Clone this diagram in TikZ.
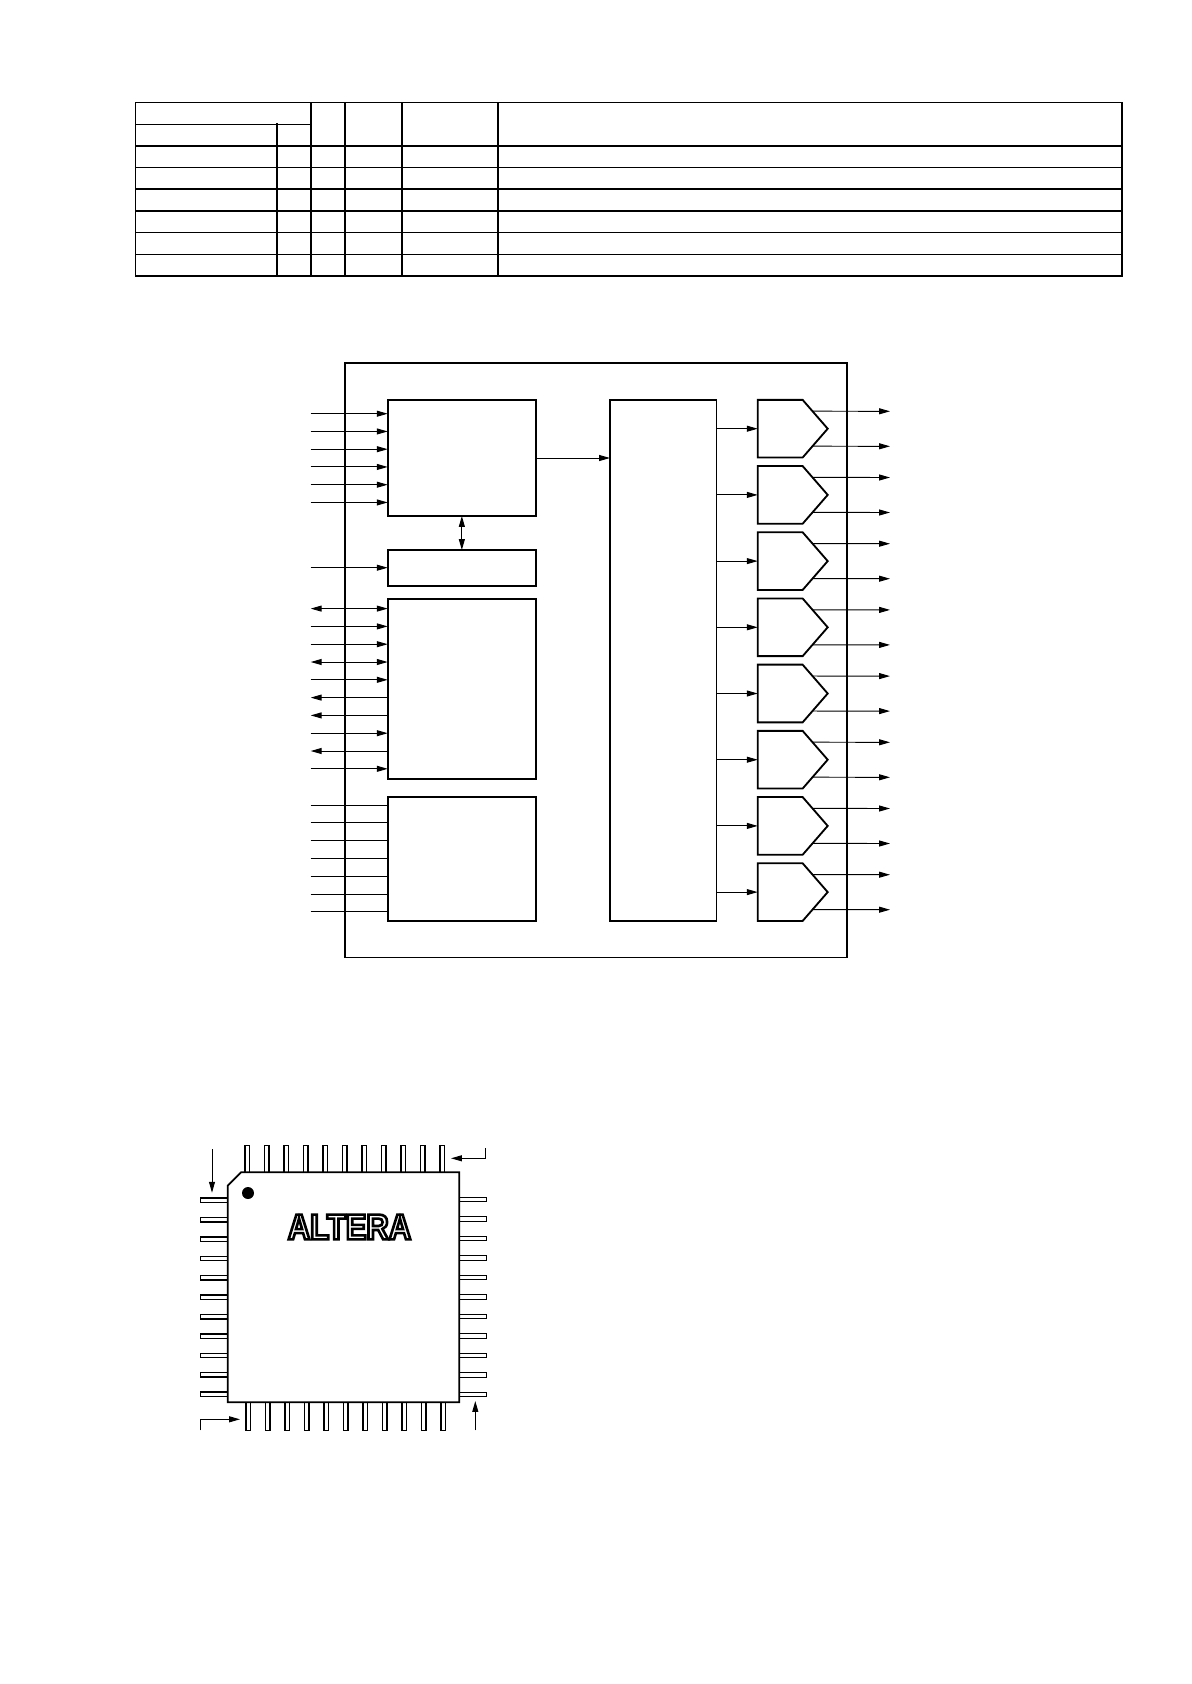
\documentclass[tikz,border=0pt]{standalone}
\usepackage{fontspec}
\usepackage{tikz}
\usetikzlibrary{shapes.symbols, arrows.meta, calc}
\newfontfamily\logofont[FakeStretch=0.86]{Liberation Sans}
\tikzset{
	rulethin/.style ={line width=0.6pt, line cap=rect},
	rulethick/.style={line width=1pt, line cap=rect},
	blk/.style      ={rectangle, draw=black, line width=1.05pt, inner sep=0pt, outer sep=0pt},
	pxsize/.style 2 args={minimum width=#1*0.02cm, minimum height=#2*0.02cm},
	drvblk/.style   ={signal, signal to=east, signal pointer angle=98, draw=black, line width=1.05pt, inner sep=0pt, outer sep=0pt, minimum width=70*0.02cm, minimum height=57.7*0.02cm, anchor=west},
	sigin/.style    ={-{Stealth[length=6.2pt, width=3.4pt, inset=0pt]}, line width=0.55pt},
	sigout/.style   ={{Stealth[length=6.2pt, width=3.4pt, inset=0pt]}-, line width=0.55pt},
	sigboth/.style  ={{Stealth[length=6.2pt, width=3.4pt, inset=0pt]}-{Stealth[length=6.2pt, width=3.4pt, inset=0pt]}, line width=0.55pt},
	signone/.style  ={line width=0.55pt},
	pin/.style      ={draw=black, fill=white, line width=0.75pt},
}
\begin{document}
\begin{tikzpicture}[x=0.02cm, y=-0.02cm]
	\useasboundingbox (0,0) rectangle (1191,1684);
	% table
	\draw[rulethin] (135.5,102.5) -- (1122,102.5);
	\draw[rulethin] (135.5,124.3) -- (311,124.3);
	\foreach \yy in {167.3, 189, 232.3, 254.3}
		\draw[rulethin] (135.5,\yy) -- (1122,\yy);
	\foreach \yy in {145.7, 210.7, 275.7}
		\draw[rulethick] (135.5,\yy) -- (1122,\yy);
	\draw[rulethick] (276.7,124.3) -- (276.7,275.7);
	\foreach \xx in {135.5, 311, 345, 402, 498.3, 1122}
		\draw[rulethick] (\xx,102.5) -- (\xx,275.7);
	% block diagram
	\node[blk, pxsize={501.7}{594.5}] (chipbox) at (596.15,660.25) {};
	\node[blk, pxsize={148.3}{116}] (ctrl) at (461.85,458) {};
	\node[blk, pxsize={148.3}{36}] (mem) at (461.85,568) {};
	\node[blk, pxsize={148.3}{179.9}] (iface) at (461.85,688.65) {};
	\node[blk, pxsize={148.3}{124}] (power) at (461.85,859) {};
	\node[blk, pxsize={106.5}{521}] (mux) at (663.25,660.5) {};
	\draw[sigin] (ctrl.east) -- (ctrl.east -| mux.west);
	\draw[sigboth] (ctrl.south) -- (mem.north);
	\foreach \i in {0,...,5} {
		\coordinate (ctrlin\i) at (310.7,413.7+\i*17.75);
		\draw[sigin] (ctrlin\i) -- (ctrlin\i -| ctrl.west);
	}
	\coordinate (memin) at (310.7,567.7);
	\draw[sigin] (memin) -- (memin -| mem.west);
	\foreach \i/\kind in {0/sigboth, 1/sigin, 2/sigin, 3/sigboth, 4/sigin, 5/sigout, 6/sigout, 7/sigin, 8/sigout, 9/sigin} {
		\coordinate (ifin\i) at (310.7,608.6+\i*17.8);
		\draw[\kind] (ifin\i) -- (ifin\i -| iface.west);
	}
	\foreach \i in {0,...,6} {
		\coordinate (pwrin\i) at (310.7,805+\i*17.8);
		\draw[signone] (pwrin\i) -- (pwrin\i -| power.west);
	}
	\foreach \i in {0,...,7} {
		\node[drvblk] (drv\i) at (757.7,428.7+\i*66.2) {};
		\draw[sigin] (drv\i.west -| mux.east) -- (drv\i.west);
		\coordinate (outa\i) at (890,411.3+\i*66.2);
		\coordinate (outb\i) at (890,446.3+\i*66.2);
		\draw[sigin] ([shift={(-15,-17.5)}]drv\i.east) -- (outa\i);
		\draw[sigin] ([shift={(-15,17.5)}]drv\i.east) -- (outb\i);
	}
	% package
	\foreach \i in {0,...,10} {
		\draw[pin] (245.1+\i*19.5,1145.3) rectangle (249.5+\i*19.5,1172.3);
		\draw[pin] (246.1+\i*19.5,1402.3) rectangle (250.5+\i*19.5,1430.3);
		\draw[pin] (200.3,1198.1+\i*19.4) rectangle (227.7,1202.5+\i*19.4);
		\draw[pin] (459.3,1197.3+\i*19.5) rectangle (486.7,1201.7+\i*19.5);
	}
	\draw[fill=white, line width=1pt] (241,1172.3) -- (459.3,1172.3) -- (459.3,1402.3) -- (227.7,1402.3) -- (227.7,1185.7) -- cycle;
	\fill (248,1193) circle (6);
	\node[inner sep=0pt] (logo) at (349.5,1227) {\logofont\bfseries\fontsize{20.5}{22}\selectfont\special{pdf:code 1 Tr 1.5 w}ALTERA\special{pdf:code 0 Tr}};
	\coordinate (pina) at (212,1149);
	\coordinate (pinaend) at (212,1192.7);
	\coordinate (pinb) at (485,1148.3);
	\coordinate (pinbend) at (451,1158.3);
	\coordinate (pinc) at (200,1430.3);
	\coordinate (pincend) at (240,1419.3);
	\coordinate (pind) at (475.3,1430.3);
	\coordinate (pindend) at (475.3,1401);
	\draw[sigin] (pina) -- (pinaend);
	\draw[sigin] (pinb) |- (pinbend);
	\draw[sigin] (pinc) |- (pincend);
	\draw[sigin] (pind) -- (pindend);
\end{tikzpicture}
\end{document}
